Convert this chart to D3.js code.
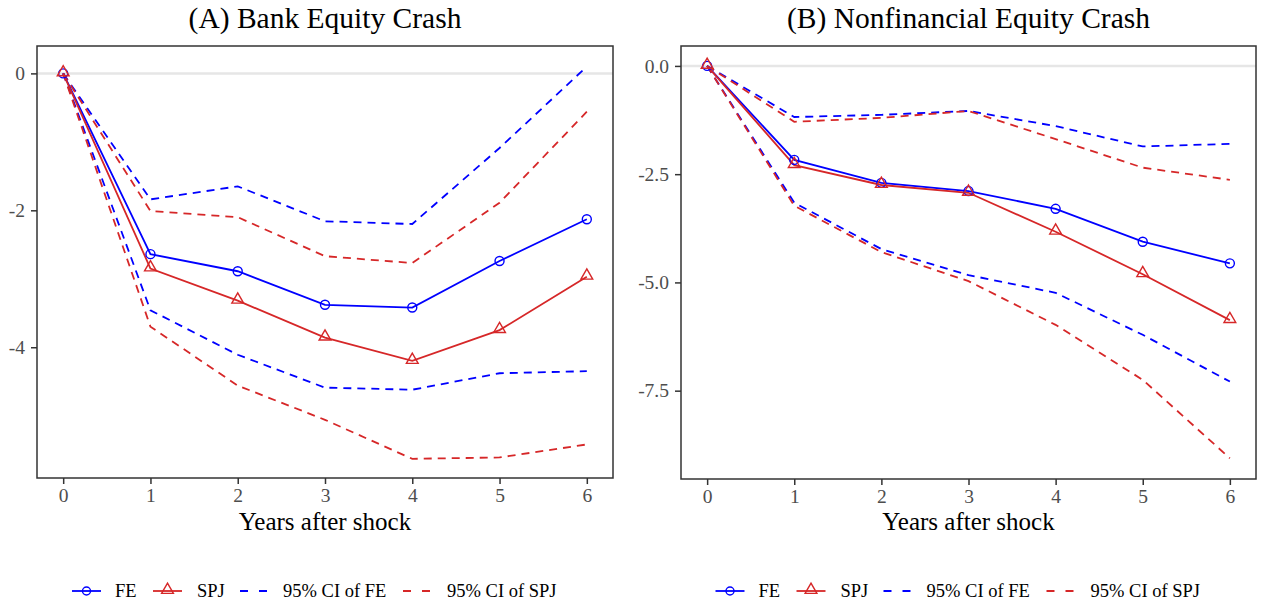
<!DOCTYPE html>
<html>
<head>
<meta charset="utf-8">
<script src="https://cdn.jsdelivr.net/npm/d3@7"></script>
<style>
  body { margin: 0; background: #fff; }
  svg, svg text { font-family: "Liberation Serif", "Times New Roman", serif; }
  svg { display: block; }
</style>
</head>
<body>
<div id="chart"></div>
<script>
// years after the shock
var years = [0, 1, 2, 3, 4, 5, 6];

// (A) bank equity crash
var bankFE      = [0, -2.64, -2.89, -3.38, -3.42, -2.74, -2.13];
var bankSPJ     = [0, -2.85, -3.32, -3.86, -4.20, -3.75, -2.97];
var bankFEHi    = [0, -1.84, -1.65, -2.16, -2.20, -1.09, 0.10];
var bankFELo    = [0, -3.46, -4.11, -4.59, -4.62, -4.38, -4.35];
var bankSPJHi   = [0, -2.01, -2.10, -2.67, -2.77, -1.89, -0.56];
var bankSPJLo   = [0, -3.70, -4.56, -5.06, -5.63, -5.61, -5.42];
var bankTicks   = [0, -2, -4];

// (B) nonfinancial equity crash
var nonfinFE    = [0, -2.17, -2.70, -2.89, -3.30, -4.06, -4.56];
var nonfinSPJ   = [0, -2.29, -2.75, -2.93, -3.83, -4.81, -5.87];
var nonfinFEHi  = [0, -1.18, -1.13, -1.04, -1.39, -1.86, -1.80];
var nonfinFELo  = [0, -3.16, -4.23, -4.83, -5.24, -6.21, -7.29];
var nonfinSPJHi = [0, -1.29, -1.20, -1.04, -1.69, -2.35, -2.63];
var nonfinSPJLo = [0, -3.23, -4.30, -4.97, -5.98, -7.25, -9.06];
var nonfinTicks = [0, -2.5, -5, -7.5];

var blue = "#0000ff", red = "#d62728";
var serif = "'Liberation Serif', 'Times New Roman', serif";

var svg = d3.select("#chart").append("svg")
    .attr("width", 1261)
    .attr("height", 604);

function panel(opt) {
    var x = d3.scaleLinear().domain([-0.3, 6.3]).range([opt.left, opt.right]);
    var y = d3.scaleLinear().domain(opt.ydom).range([opt.bottom, opt.top]);
    var g = svg.append("g");
    var cx = (opt.left + opt.right) / 2;

    // zero reference line
    g.append("line")
        .attr("x1", opt.left).attr("x2", opt.right)
        .attr("y1", y(0)).attr("y2", y(0))
        .attr("stroke", "#e6e6e6").attr("stroke-width", 2.5);

    var line = d3.line()
        .x(function(d) { return x(d[0]); })
        .y(function(d) { return y(d[1]); });

    function series(vals, color, dashed) {
        g.append("path")
            .datum(d3.zip(years, vals))
            .attr("d", line)
            .attr("fill", "none")
            .attr("stroke", color)
            .attr("stroke-width", 1.8)
            .attr("stroke-dasharray", dashed ? "8,6" : null);
    }

    series(opt.feHi, blue, true);
    series(opt.feLo, blue, true);
    series(opt.spjHi, red, true);
    series(opt.spjLo, red, true);
    series(opt.fe, blue, false);
    series(opt.spj, red, false);

    // markers
    g.selectAll(".circ").data(d3.zip(years, opt.fe)).enter().append("circle")
        .attr("cx", function(d) { return x(d[0]); })
        .attr("cy", function(d) { return y(d[1]); })
        .attr("r", 4.5)
        .attr("fill", "none").attr("stroke", blue).attr("stroke-width", 1.4);
    var tri = d3.symbol().type(d3.symbolTriangle).size(60);
    g.selectAll(".tri").data(d3.zip(years, opt.spj)).enter().append("path")
        .attr("d", tri)
        .attr("transform", function(d) { return "translate(" + x(d[0]) + "," + (y(d[1]) - 1) + ")"; })
        .attr("fill", "none").attr("stroke", red).attr("stroke-width", 1.4);

    // panel border
    g.append("rect")
        .attr("x", opt.left).attr("y", opt.top)
        .attr("width", opt.right - opt.left).attr("height", opt.bottom - opt.top)
        .attr("fill", "none").attr("stroke", "#333").attr("stroke-width", 1.5);

    // axes
    var xa = g.append("g")
        .attr("transform", "translate(0," + opt.bottom + ")")
        .call(d3.axisBottom(x).tickValues(years).tickSize(6).tickPadding(4).tickFormat(d3.format("d")));
    var ya = g.append("g")
        .attr("transform", "translate(" + opt.left + ",0)")
        .call(d3.axisLeft(y).tickValues(opt.ticks).tickSize(6).tickPadding(6).tickFormat(opt.fmt));
    [xa, ya].forEach(function(a) {
        a.attr("font-family", serif).attr("font-size", 19.5);
        a.select(".domain").remove();
        a.selectAll("line").attr("stroke", "#333").attr("stroke-width", 1.5);
        a.selectAll("text").attr("fill", "#4d4d4d");
    });

    // title and axis title
    g.append("text").attr("x", cx).attr("y", 28)
        .attr("text-anchor", "middle").style("font-size", "29.5px").text(opt.title);
    g.append("text").attr("x", cx).attr("y", 530)
        .attr("text-anchor", "middle").style("font-size", "25px").text("Years after shock");

    // legend
    var lx = cx - 253, ly = 591;
    var lg = g.append("g").attr("transform", "translate(" + lx + "," + ly + ")");
    lg.append("line").attr("x1", 0).attr("x2", 29).attr("stroke", blue).attr("stroke-width", 1.8);
    lg.append("circle").attr("cx", 14.5).attr("r", 4).attr("fill", "none").attr("stroke", blue).attr("stroke-width", 1.4);
    lg.append("text").attr("x", 43).attr("y", 6).style("font-size", "18.5px").text("FE");
    lg.append("line").attr("x1", 81).attr("x2", 110).attr("stroke", red).attr("stroke-width", 1.8);
    lg.append("path").attr("d", tri).attr("transform", "translate(95.5,-1)")
        .attr("fill", "none").attr("stroke", red).attr("stroke-width", 1.4);
    lg.append("text").attr("x", 125).attr("y", 6).style("font-size", "18.5px").text("SPJ");
    lg.append("line").attr("x1", 168).attr("x2", 195).attr("stroke", blue).attr("stroke-width", 1.8)
        .attr("stroke-dasharray", "8,11");
    lg.append("text").attr("x", 211).attr("y", 6).style("font-size", "18.5px").text("95% CI of FE");
    lg.append("line").attr("x1", 331).attr("x2", 358).attr("stroke", red).attr("stroke-width", 1.8)
        .attr("stroke-dasharray", "8,11");
    lg.append("text").attr("x", 375).attr("y", 6).style("font-size", "18.5px").text("95% CI of SPJ");
}

panel({
    title: "(A) Bank Equity Crash",
    left: 37, right: 613, top: 46, bottom: 478,
    ydom: [-5.91, 0.4], ticks: bankTicks,
    fmt: function(d) { return String(d); },
    fe: bankFE, spj: bankSPJ,
    feHi: bankFEHi, feLo: bankFELo, spjHi: bankSPJHi, spjLo: bankSPJLo
});

panel({
    title: "(B) Nonfinancial Equity Crash",
    left: 681, right: 1256, top: 46, bottom: 479,
    ydom: [-9.54, 0.46], ticks: nonfinTicks,
    fmt: function(d) { return d.toFixed(1); },
    fe: nonfinFE, spj: nonfinSPJ,
    feHi: nonfinFEHi, feLo: nonfinFELo, spjHi: nonfinSPJHi, spjLo: nonfinSPJLo
});
</script>
</body>
</html>
